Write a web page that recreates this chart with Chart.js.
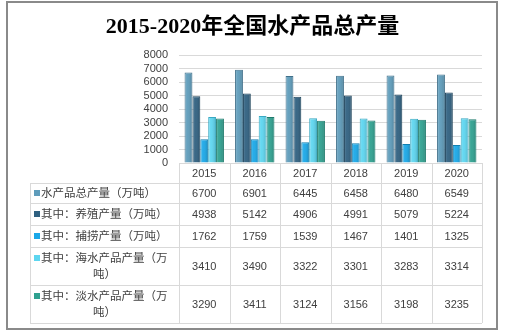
<!DOCTYPE html>
<html>
<head>
<meta charset="utf-8">
<script src="https://cdn.jsdelivr.net/npm/chart.js@4.4.0/dist/chart.umd.min.js"></script>
<style>
html, body { margin: 0; padding: 0; background: #fff; }
#wrap { width: 505px; height: 333px; }
</style>
</head>
<body>
<div id="wrap"><canvas id="fishChart"></canvas></div>
<script>
var years = ['2015', '2016', '2017', '2018', '2019', '2020'];
var totalOutput = [6700, 6901, 6445, 6458, 6480, 6549];
var farmedOutput = [4938, 5142, 4906, 4991, 5079, 5224];
var caughtOutput = [1762, 1759, 1539, 1467, 1401, 1325];
var marineOutput = [3410, 3490, 3322, 3301, 3283, 3314];
var freshwaterOutput = [3290, 3411, 3124, 3156, 3198, 3235];
var seriesNames = ['水产品总产量（万吨）', '其中：养殖产量（万吨）', '其中：捕捞产量（万吨）', '其中：海水产品产量（万吨）', '其中：淡水产品产量（万吨）'];
var yMax = 8000;
var yStep = 1000;

var seriesData = [totalOutput, farmedOutput, caughtOutput, marineOutput, freshwaterOutput];
var fillColors = ['#5e9cbb', '#2f6080', '#1aa8e8', '#5dd6f0', '#2fa190'];
var edgeColors = ['#40708a', '#1c4259', '#127fb0', '#3aa9c2', '#1e7a6c'];

// table rows: year header + one row per series
var rowHeights = [20, 20, 22, 22, 38, 38];
var labelLeft = 30;
var gridColor = '#d9d9d9';
var textColor = '#404040';

function wrapText(ctx, text, maxWidth) {
    var lines = [];
    var line = '';
    for (var i = 0; i < text.length; i++) {
        var test = line + text[i];
        if (ctx.measureText(test).width > maxWidth && line) {
            lines.push(line);
            line = text[i];
        } else {
            line = test;
        }
    }
    lines.push(line);
    return lines;
}

// shading on each bar so it looks like a rounded column
var barShade = {
    id: 'barShade',
    afterDatasetsDraw(chart) {
        var ctx = chart.ctx;
        chart.data.datasets.forEach(function (ds, di) {
            chart.getDatasetMeta(di).data.forEach(function (bar) {
                var p = bar.getProps(['x', 'y', 'base', 'width'], true);
                var left = p.x - p.width / 2;
                var g = ctx.createLinearGradient(left, 0, left + p.width, 0);
                g.addColorStop(0, 'rgba(255,255,255,0.22)');
                g.addColorStop(0.35, 'rgba(255,255,255,0.05)');
                g.addColorStop(1, 'rgba(0,0,0,0.18)');
                ctx.save();
                ctx.fillStyle = g;
                ctx.fillRect(left + 1, p.y + 1, p.width - 2, p.base - p.y - 1);
                ctx.restore();
            });
        });
    }
};

// data table under the plot plus the outer frame
var dataTable = {
    id: 'dataTable',
    afterDraw(chart) {
        var ctx = chart.ctx;
        var xs = chart.scales.x;
        var half = (xs.getPixelForValue(1) - xs.getPixelForValue(0)) / 2;
        var edges = years.map(function (y, i) { return xs.getPixelForValue(i) - half; });
        edges.push(xs.getPixelForValue(years.length - 1) + half);
        var colLeft = edges[0];
        var colRight = edges[edges.length - 1];

        var rowTops = [chart.chartArea.bottom];
        rowHeights.forEach(function (h) { rowTops.push(rowTops[rowTops.length - 1] + h); });
        var tableBottom = rowTops[rowTops.length - 1];

        ctx.save();
        ctx.strokeStyle = gridColor;
        ctx.lineWidth = 1;
        ctx.beginPath();
        // header row lines
        ctx.moveTo(colLeft, rowTops[0] + 0.5);
        ctx.lineTo(colRight, rowTops[0] + 0.5);
        for (var r = 1; r < rowTops.length; r++) {
            ctx.moveTo(labelLeft, Math.round(rowTops[r]) + 0.5);
            ctx.lineTo(colRight, Math.round(rowTops[r]) + 0.5);
        }
        edges.forEach(function (x) {
            ctx.moveTo(Math.round(x) + 0.5, rowTops[0]);
            ctx.lineTo(Math.round(x) + 0.5, tableBottom);
        });
        ctx.moveTo(labelLeft + 0.5, rowTops[1]);
        ctx.lineTo(labelLeft + 0.5, tableBottom);
        ctx.stroke();

        // year header
        ctx.fillStyle = textColor;
        ctx.font = '11px "Liberation Sans", Arial, sans-serif';
        ctx.textAlign = 'center';
        ctx.textBaseline = 'middle';
        years.forEach(function (y, i) {
            ctx.fillText(y, xs.getPixelForValue(i), (rowTops[0] + rowTops[1]) / 2 + 1);
        });

        // series rows
        seriesNames.forEach(function (name, s) {
            var top = rowTops[s + 1];
            var bottom = rowTops[s + 2];
            var mid = (top + bottom) / 2;

            ctx.font = '11px "Liberation Sans", Arial, sans-serif';
            ctx.textAlign = 'center';
            ctx.fillStyle = textColor;
            seriesData[s].forEach(function (v, i) {
                ctx.fillText(String(v), xs.getPixelForValue(i), mid + 1);
            });

            ctx.font = '11.5px "Noto Sans CJK SC", sans-serif';
            var lines = wrapText(ctx, name, colLeft - labelLeft - 14);
            var lineH = 16;
            var firstY = mid - (lines.length - 1) * lineH / 2;
            ctx.fillStyle = fillColors[s];
            ctx.fillRect(labelLeft + 4, firstY - 3, 6, 6);
            ctx.fillStyle = textColor;
            ctx.textAlign = 'left';
            ctx.fillText(lines[0], labelLeft + 11, firstY);
            ctx.textAlign = 'center';
            for (var k = 1; k < lines.length; k++) {
                ctx.fillText(lines[k], (labelLeft + colLeft) / 2, firstY + k * lineH);
            }
        });

        // outer frame
        ctx.strokeStyle = '#8a8a8a';
        ctx.lineWidth = 2;
        ctx.strokeRect(7, 2, 490, 327);
        ctx.restore();
    }
};

var datasets = seriesNames.map(function (name, i) {
    return {
        label: name,
        data: seriesData[i],
        backgroundColor: fillColors[i],
        borderColor: edgeColors[i],
        borderWidth: 1,
        categoryPercentage: 0.78,
        barPercentage: 1
    };
});

new Chart(document.getElementById('fishChart'), {
    type: 'bar',
    data: { labels: years, datasets: datasets },
    options: {
        responsive: true,
        maintainAspectRatio: false,
        animation: false,
        layout: { padding: { left: 23, right: 23, top: 0, bottom: 0 } },
        plugins: {
            legend: { display: false },
            tooltip: { enabled: false },
            title: {
                display: true,
                text: '2015-2020年全国水产品总产量',
                color: '#000',
                font: { family: '"Liberation Serif", "Noto Sans CJK SC", serif', size: 22, weight: 'bold', lineHeight: 1.2 },
                padding: { top: 14, bottom: 14.6 }
            }
        },
        scales: {
            x: {
                offset: true,
                grid: { display: false },
                border: { display: false },
                ticks: { display: false },
                afterFit: function (scale) { scale.height = 170; }
            },
            y: {
                min: 0,
                max: yMax,
                grid: { color: gridColor, tickLength: 0, drawTicks: false },
                border: { display: false },
                ticks: {
                    stepSize: yStep,
                    autoSkip: false,
                    padding: 11,
                    color: textColor,
                    font: { family: '"Liberation Sans", Arial, sans-serif', size: 11 },
                    callback: function (v) { return String(v); }
                },
                afterFit: function (scale) { scale.width = 156; }
            }
        }
    },
    plugins: [barShade, dataTable]
});
</script>
</body>
</html>
